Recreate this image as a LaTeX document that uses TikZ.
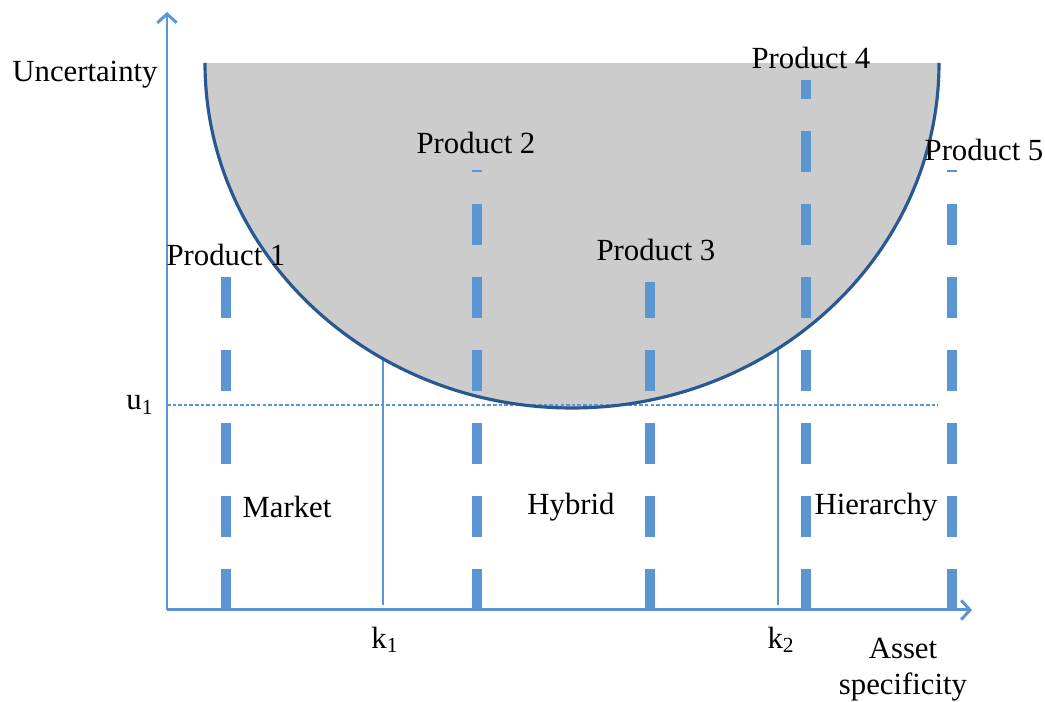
\documentclass[tikz,border=0pt]{standalone}
\usepackage{fontspec}
\setmainfont{Liberation Serif}
\usetikzlibrary{arrows.meta}
\definecolor{axisblue}{RGB}{91,150,210}
\definecolor{rimblue}{RGB}{40,88,145}
\definecolor{zonegray}{RGB}{204,204,204}

\begin{document}
\begin{tikzpicture}[x=0.02cm, y=0.02cm,
    axisline/.style={draw=axisblue, line width=1.7pt, -{Straight Barb[length=5pt,width=11pt]}},
    prodline/.style={draw=axisblue, line width=5.6pt, dash pattern=on 0.82cm off 0.64cm},
    kline/.style={draw=axisblue, line width=1.1pt},
    lbl/.style={font=\fontsize{17.5}{20.5}\selectfont, inner sep=0pt}]
    \useasboundingbox (0,0) rectangle (1045,702);
    \coordinate (o) at (167,92);
    \coordinate (ytop) at (167,690);
    \coordinate (xend) at (972,92);
    \coordinate (k1) at (383,97);
    \coordinate (k2) at (778,97);
    \coordinate (k1top) at (383,352);
    \coordinate (k2top) at (778,356);
    \coordinate (u1) at (167,297);
    \coordinate (u1end) at (938,297);
    \draw[kline] (k1) -- (k1top);
    \draw[kline] (k2) -- (k2top);
    \fill[zonegray] (205,639) arc[start angle=180, end angle=360, x radius=367, y radius=345] -- cycle;
    \draw[axisblue, line width=0.6pt, dash pattern=on 2pt off 1.2pt] (u1) -- (u1end);
    \foreach \x/\top in {226/425, 477/532, 650/420, 806/622, 952/532}
        \draw[prodline] (\x,92) -- (\x,\top);
    \draw[rimblue, line width=1.8pt] (205,639) arc[start angle=180, end angle=360, x radius=367, y radius=345];
    \draw[axisline] (o) -- (ytop);
    \draw[axisline] (o) -- (xend);
    \node[lbl] (unc) at (85,627) {Uncertainty};
    \node[lbl] (p1) at (226,447) {Product 1};
    \node[lbl] (p2) at (476,559) {Product 2};
    \node[lbl] (p3) at (656,452) {Product 3};
    \node[lbl] (p4) at (811,644) {Product 4};
    \node[lbl] (p5) at (984,552) {Product 5};
    \node[lbl] (ulbl) at (140,297) {u\textsubscript{1}};
    \node[lbl] (k1lbl) at (385,62) {k\textsubscript{1}};
    \node[lbl] (k2lbl) at (781,62) {k\textsubscript{2}};
    \node[lbl] (market) at (287,195) {Market};
    \node[lbl] (hybrid) at (571,195) {Hybrid};
    \node[lbl] (hier) at (876,195) {Hierarchy};
    \node[lbl, align=center] (asset) at (903,32) {Asset\\specificity};
\end{tikzpicture}
\end{document}
